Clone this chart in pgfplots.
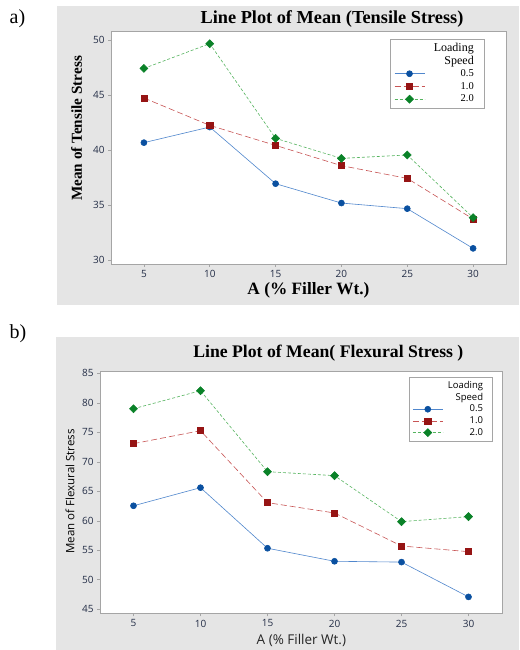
\documentclass[border=0pt]{standalone}
\usepackage{pgfplots}
\pgfplotsset{compat=1.18}
\usepackage{fontspec}
\setmainfont{Liberation Serif}
\newfontfamily\ssf{Open Sans}
\definecolor{bgc}{RGB}{229,229,229}
\definecolor{axc}{RGB}{165,165,165}
\definecolor{tickc}{RGB}{35,45,70}
\definecolor{bm}{RGB}{10,80,160}
\definecolor{bl}{RGB}{80,135,205}
\definecolor{rm}{RGB}{150,20,20}
\definecolor{rl}{RGB}{200,85,85}
\definecolor{gm}{RGB}{10,130,40}
\definecolor{gl}{RGB}{85,180,95}
\pgfplotsset{
  mystyle/.style={
    scale only axis,
    xmin=2.5, xmax=32.5,
    xtick={5,10,15,20,25,30},
    axis line style={axc, line width=0.8pt},
    tick style={axc, line width=0.6pt},
    tick align=outside,
    major tick length=3pt,
    xtick pos=bottom, ytick pos=left,
    every axis title shift=0pt,
    /pgf/number format/assume math mode=true,
    ticklabel style={font=\ssf\fontsize{10}{12}\selectfont, text=tickc},
    axis background/.style={fill=white},
    legend cell align=right,
    legend image code/.code={\draw[mark repeat=2,mark phase=2] plot coordinates {(0pt,0pt) (15pt,0pt) (30pt,0pt)};},
  },
  s1/.style={bl, line width=0.6pt, mark=*, mark size=3pt, mark options={solid, draw=bm, fill=bm}},
  s2/.style={rl, line width=0.6pt, dash pattern=on 6pt off 3pt, mark=square*, mark size=3.1pt, mark options={solid, draw=rm, fill=rm}},
  s3/.style={gl, line width=0.6pt, dash pattern=on 3pt off 2pt, mark=square*, mark size=2.8pt, mark options={solid, rotate=45, draw=gm, fill=gm}},
}
\begin{document}
\begin{tikzpicture}
\useasboundingbox (0pt,0pt) rectangle (519pt,650pt);
\fill[white] (0pt,0pt) rectangle (519pt,650pt);
\fill[bgc] (57pt,345pt) rectangle (519pt,644pt);
\fill[bgc] (56pt,0pt) rectangle (519pt,313.3pt);
\node[font=\fontsize{20}{22}\selectfont] at (17.5pt,631pt) {a)};
\node[font=\fontsize{20}{22}\selectfont] at (18pt,316pt) {b)};

% ---------- panel a ----------
\begin{axis}[mystyle,
  at={(111pt,386pt)}, anchor=south west,
  width=395pt, height=233pt,
  ymin=29.64, ymax=50.82, ytick={30,35,40,45,50},
  title={Line Plot of Mean (Tensile Stress)},
  title style={at={(axis description cs:0.5595,1.0494)}, anchor=center, font=\bfseries\fontsize{18.3}{20}\selectfont},
  xlabel={A (\% Filler Wt.)},
  xlabel style={at={(axis description cs:0.5,-0.1137)}, anchor=center, font=\bfseries\fontsize{17.3}{19}\selectfont},
  ylabel={Mean of Tensile Stress},
  ylabel style={at={(axis description cs:-0.0873,0.5815)}, anchor=center, font=\bfseries\fontsize{15.2}{17}\selectfont},
  legend style={at={(axis description cs:0.9443,0.9644)}, anchor=north east, draw=axc, fill=white, inner xsep=4.3pt, inner ysep=2.5pt, row sep=0pt,
    nodes={inner sep=0pt, minimum height=12.7pt}},
]
\addlegendimage{empty legend}\addlegendentry{\makebox[49pt][r]{\fontsize{12}{13}\selectfont Loading}\hspace*{5.7pt}}
\addlegendimage{empty legend}\addlegendentry{\makebox[49pt][r]{\fontsize{12}{13}\selectfont Speed}\hspace*{5.7pt}}
\addplot[s1] coordinates {(5,40.67) (10,42.09) (15,36.94) (20,35.18) (25,34.67) (30,31.06)};
\addlegendentry{\makebox[49pt][r]{\fontsize{10.5}{12}\selectfont 0.5}\hspace*{5.7pt}}
\addplot[s2] coordinates {(5,44.73) (10,42.24) (15,40.42) (20,38.58) (25,37.42) (30,33.73)};
\addlegendentry{\makebox[49pt][r]{\fontsize{10.5}{12}\selectfont 1.0}\hspace*{5.7pt}}
\addplot[s3] coordinates {(5,47.42) (10,49.67) (15,41.06) (20,39.24) (25,39.55) (30,33.85)};
\addlegendentry{\makebox[49pt][r]{\fontsize{10.5}{12}\selectfont 2.0}\hspace*{5.7pt}}
\end{axis}

% ---------- panel b ----------
\begin{axis}[mystyle,
  at={(100pt,36.7pt)}, anchor=south west,
  width=402pt, height=242.3pt,
  ymin=44.32, ymax=85.4, ytick={45,50,55,60,65,70,75,80,85},
  title={Line Plot of Mean( Flexural Stress )},
  title style={at={(axis description cs:0.568,1.0755)}, anchor=center, font=\bfseries\fontsize{17.7}{19}\selectfont},
  xlabel={A (\% Filler Wt.)},
  xlabel style={at={(axis description cs:0.501,-0.110)}, anchor=center, font=\ssf\fontsize{13.5}{15}\selectfont, text=black!85},
  ylabel={Mean of Flexural Stress},
  ylabel style={at={(axis description cs:-0.0746,0.5027)}, anchor=center, font=\ssf\fontsize{11.5}{13}\selectfont},
  legend style={at={(axis description cs:0.9768,0.974)}, anchor=north east, draw=axc, fill=white, inner xsep=3.3pt, inner ysep=2.5pt, row sep=0pt,
    nodes={inner sep=0pt, minimum height=11.7pt}, font=\ssf\fontsize{9.5}{11}\selectfont},
]
\addlegendimage{empty legend}\addlegendentry{\makebox[40pt][r]{Loading}\hspace*{6.1pt}}
\addlegendimage{empty legend}\addlegendentry{\makebox[40pt][r]{Speed}\hspace*{6.1pt}}
\addplot[s1] coordinates {(5,62.55) (10,65.62) (15,55.35) (20,53.14) (25,53.0) (30,47.1)};
\addlegendentry{\makebox[40pt][r]{0.5}\hspace*{6.1pt}}
\addplot[s2] coordinates {(5,73.08) (10,75.28) (15,63.08) (20,61.33) (25,55.73) (30,54.77)};
\addlegendentry{\makebox[40pt][r]{1.0}\hspace*{6.1pt}}
\addplot[s3] coordinates {(5,79.0) (10,82.06) (15,68.33) (20,67.66) (25,59.86) (30,60.71)};
\addlegendentry{\makebox[40pt][r]{2.0}\hspace*{6.1pt}}
\end{axis}
\end{tikzpicture}
\end{document}
